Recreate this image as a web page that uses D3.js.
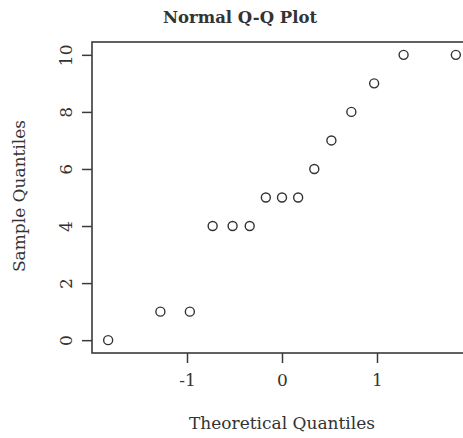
<!DOCTYPE html>
<meta charset="utf-8">
<script src="https://d3js.org/d3.v7.min.js"></script>
<style>
  body { margin: 0; background: #fff; }
  text { font-family: "DejaVu Serif", "Liberation Serif", serif; fill: #333; }
</style>
<div id="chart"></div>
<script>
// theoretical quantiles (x) and sample quantiles (y)
var theoretical = [-1.83, -1.28, -0.97, -0.73, -0.52, -0.34, -0.17, 0, 0.17, 0.34, 0.52, 0.73, 0.97, 1.28, 1.83];
var sample = [0, 1, 1, 4, 4, 4, 5, 5, 5, 6, 7, 8, 9, 10, 10];
var xTicks = [-1, 0, 1];
var yTicks = [0, 2, 4, 6, 8, 10];

var W = 463, H = 438;
var mLeft = 92, mRight = 472, mTop = 42, mBottom = 353;
var fmt = function(d) { return String(d); };

var svg = d3.select("#chart").append("svg")
  .attr("width", W).attr("height", H);

var x = d3.scaleLinear().domain([-2, 2]).range([mLeft, mRight]);
var y = d3.scaleLinear().domain([-0.45, 10.45]).range([mBottom, mTop]);

// box
svg.append("rect")
  .attr("x", mLeft).attr("y", mTop)
  .attr("width", mRight - mLeft).attr("height", mBottom - mTop)
  .attr("fill", "none").attr("stroke", "#3a3a3a").attr("stroke-width", 1.6);

// x axis
var xa = svg.append("g").attr("transform", "translate(0," + mBottom + ")")
  .call(d3.axisBottom(x).tickValues(xTicks).tickSize(10).tickPadding(11).tickFormat(fmt));
xa.select(".domain").remove();
xa.selectAll("line").attr("stroke", "#3a3a3a").attr("stroke-width", 1.5);
xa.selectAll("text").style("font-size", "17px").attr("fill", "#333")
  .style("font-family", "'DejaVu Serif', serif");

// y axis
var ya = svg.append("g").attr("transform", "translate(" + mLeft + ",0)")
  .call(d3.axisLeft(y).tickValues(yTicks).tickSize(10).tickFormat(fmt));
ya.select(".domain").remove();
ya.selectAll("line").attr("stroke", "#3a3a3a").attr("stroke-width", 1.5);
ya.selectAll("text")
  .attr("x", null).attr("dy", null)
  .attr("text-anchor", "middle")
  .attr("transform", "translate(-26,0) rotate(-90) translate(0,6)")
  .style("font-size", "17px").attr("fill", "#333")
  .style("font-family", "'DejaVu Serif', serif");

// points
svg.selectAll("circle.pt")
  .data(sample)
  .enter().append("circle")
    .attr("class", "pt")
    .attr("cx", function(d, i) { return x(theoretical[i]); })
    .attr("cy", function(d) { return y(d); })
    .attr("r", 4.5)
    .attr("fill", "none")
    .attr("stroke", "#333")
    .attr("stroke-width", 1.4);

// titles
svg.append("text").attr("x", 240).attr("y", 23)
  .attr("text-anchor", "middle").style("font-size", "16.5px").style("font-weight", "bold")
  .text("Normal Q-Q Plot");
svg.append("text").attr("x", 282).attr("y", 429)
  .attr("text-anchor", "middle").style("font-size", "17px")
  .text("Theoretical Quantiles");
svg.append("text")
  .attr("transform", "translate(25," + 196 + ") rotate(-90)")
  .attr("text-anchor", "middle").style("font-size", "17px")
  .text("Sample Quantiles");
</script>
